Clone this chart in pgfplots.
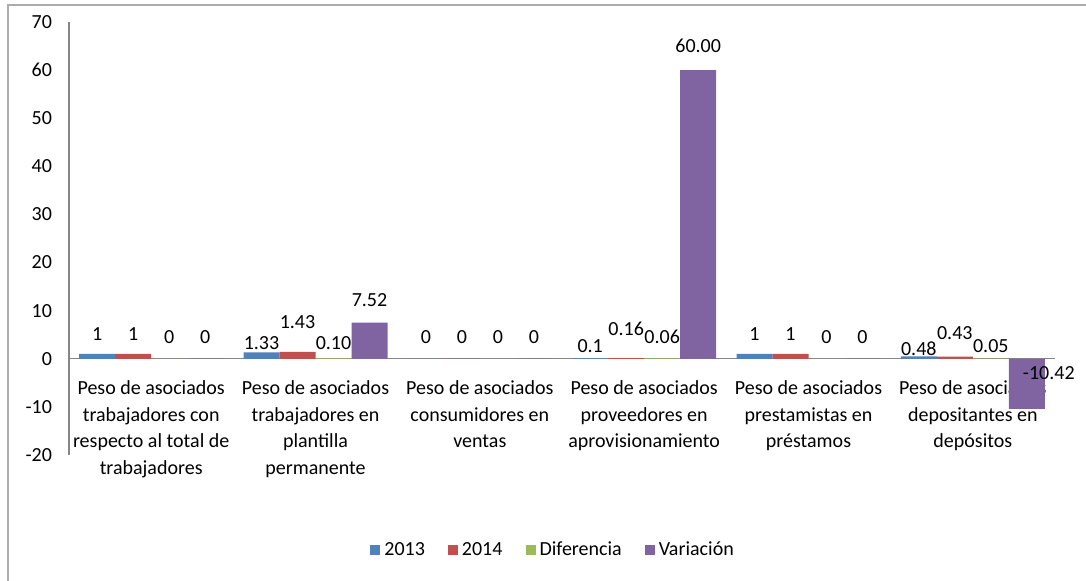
\documentclass[border=0pt]{standalone}
\usepackage{fontspec}
\setmainfont{Carlito}
\usepackage{pgfplots}
\usepackage{pgfplotstable}
\pgfplotsset{compat=1.18}
\definecolor{cA}{HTML}{4F81BD}
\definecolor{cB}{HTML}{C0504D}
\definecolor{cC}{HTML}{9BBB59}
\definecolor{cD}{HTML}{8064A2}
\definecolor{axgray}{HTML}{868686}

\pgfplotstableread{
x y lbl dx dy
0 1 1 0 10.1
1 1.33 1.33 0 4.8
2 0 0 0 11
3 0.1 0.1 0 6.3
4 1 1 0 10.1
5 0.48 0.48 0 3.9
}\tA
\pgfplotstableread{
x y lbl dx dy
0 1 1 0 10.1
1 1.43 1.43 0 14.7
2 0 0 0 11
3 0.16 0.16 0 14.6
4 1 1 0 10.1
5 0.43 0.43 0 12
}\tB
\pgfplotstableread{
x y lbl dx dy
0 0 0 0 11
1 0.10 0.10 0 7.75
2 0 0 0 11
3 0.06 0.06 0 10.9
4 0 0 0 11
5 0.05 0.05 0 6.4
}\tC
\pgfplotstableread{
x y lbl dx dy
0 0 0 0 11
1 7.52 7.52 0 11.4
2 0 0 0 11
3 60.00 60.00 0 12.2
4 0 0 0 11
5 -10.42 -10.42 11 18
}\tD

\begin{document}
\begin{tikzpicture}[x=1pt,y=1pt]
\useasboundingbox (0,0) rectangle (543,-290.5);
\draw[gray!65, line width=1pt] (4,-291) -- (4,-2.5) -- (543.5,-2.5);
\begin{axis}[
  at={(34.5pt,-227.5pt)}, anchor=south west,
  scale only axis, width=493pt, height=216.5pt,
  xmin=-0.5, xmax=5.5, ymin=-20, ymax=70,
  enlargelimits=false, clip=false,
  axis y line=left, axis x line=middle,
  axis line style={-, draw=axgray, line width=0.6pt},
  major tick length=0pt,
  ytick={-20,-10,...,70},
  /pgf/number format/assume math mode=true,
  yticklabel style={font=\fontsize{10}{12}\selectfont, xshift=-5pt},
  xtick={0,...,5},
  xticklabels={
    {Peso de asociados\\trabajadores con\\respecto al total de\\trabajadores},
    {Peso de asociados\\trabajadores en\\plantilla\\permanente},
    {Peso de asociados\\consumidores en\\ventas},
    {Peso de asociados\\proveedores en\\aprovisionamiento},
    {Peso de asociados\\prestamistas en\\préstamos},
    {Peso de asociados\\depositantes en\\depósitos}},
  xticklabel style={align=center, font=\fontsize{10}{13.3}\selectfont, yshift=-7.5pt},
  ybar=0pt, bar width=18pt,
  point meta=explicit symbolic,
  nodes near coords,
  visualization depends on={\thisrow{dy} \as \dy},
  visualization depends on={\thisrow{dx} \as \dx},
  every node near coord/.append style={anchor=center, font=\fontsize{10}{12}\selectfont,
     yshift=\dy pt, xshift=\dx pt, inner sep=0pt},
  legend columns=4,
  legend style={at={(0.492,-0.22)}, anchor=center, draw=none, fill=none,
    font=\fontsize{10}{12}\selectfont,
    /tikz/every even column/.append style={column sep=9.5pt}},
  legend image code/.code={\fill[#1] (0pt,-2.5pt) rectangle (5pt,2.5pt);},
]
\addplot[fill=cA, draw=none] table[x=x, y=y, meta=lbl] {\tA};
\addplot[fill=cB, draw=none] table[x=x, y=y, meta=lbl] {\tB};
\addplot[fill=cC, draw=none] table[x=x, y=y, meta=lbl] {\tC};
\addplot[fill=cD, draw=none] table[x=x, y=y, meta=lbl] {\tD};
\legend{2013,2014,Diferencia,Variación}
\end{axis}
\end{tikzpicture}
\end{document}
